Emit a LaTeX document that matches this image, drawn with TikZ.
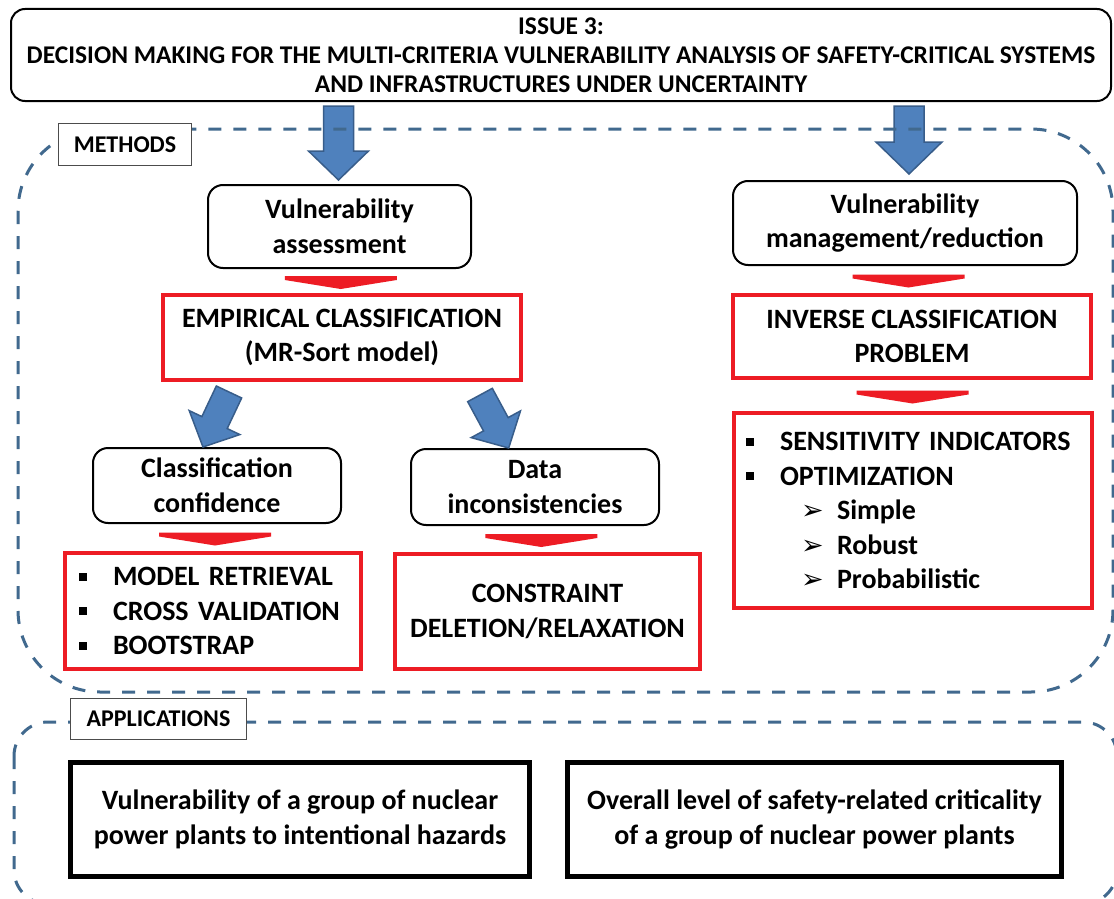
\documentclass[tikz,border=0pt]{standalone}
\usepackage{fontspec}
\setmainfont{Carlito}
\newfontfamily\dingfont{DejaVu Sans}
\usetikzlibrary{calc}
\definecolor{arrowfill}{HTML}{4F81BD}
\definecolor{arrowline}{HTML}{385D8A}
\definecolor{boxred}{HTML}{ED1C24}
\definecolor{framecol}{HTML}{41698E}
\newcommand{\boxtext}{\fontsize{28}{34.5}\selectfont\bfseries}
\newcommand{\tagtext}{\fontsize{24}{29}\selectfont\bfseries}
\newcommand{\headtext}{\fontsize{25.5}{29}\selectfont\bfseries}
\newcommand{\sqitem}{\makebox[34pt][l]{\rule[5pt]{8pt}{8pt}}}
\newcommand{\arrowitem}{\hspace*{55pt}\makebox[36pt][l]{\dingfont\fontsize{27}{27}\selectfont ➢}}
\begin{document}
\begin{tikzpicture}[x=1pt, y=-1pt,
  roundbox/.style={draw=black, line width=2pt, rounded corners=15pt, fill=white, align=center, font=\boxtext, inner sep=0pt},
  redbox/.style={draw=boxred, line width=4pt, fill=white, font=\boxtext, inner sep=0pt},
  appbox/.style={draw=black, line width=5pt, fill=white, align=center, font=\boxtext, inner sep=0pt},
  tagbox/.style={draw=black!70, line width=1.2pt, fill=white, font=\tagtext, inner sep=0pt},
  groupframe/.style={draw=framecol, line width=3pt, dash pattern=on 13pt off 12pt},
  bluearrow/.style n args={3}{fill=arrowfill, draw=arrowline, line width=1.5pt, to path={let \p1=(\tikztostart), \p2=(\tikztotarget), \p3=($(\p2)!#3!(\p1)$) in ($(\p1)!#1!90:(\p2)$) -- ($(\p3)!#1!90:(\p2)$) -- ($(\p3)!#2!90:(\p2)$) -- (\p2) -- ($(\p3)!#2!-90:(\p2)$) -- ($(\p3)!#1!-90:(\p2)$) -- ($(\p1)!#1!-90:(\p2)$) -- cycle}},
  redwedge/.style={fill=boxred, to path={let \p1=(\tikztostart.south), \p2=(\tikztotarget.north), \n1={(\x1+\x2)/2}, \n2={(\y1+\y2)/2} in (\n1-56pt,\n2+5pt) -- (\n1+56pt,\n2+5pt) -- (\n1+56pt,\n2+1pt) -- (\n1+0pt,\n2-8pt) -- (\n1-56pt,\n2+1pt) -- cycle}}]
\useasboundingbox (0,0) rectangle (1114,899);
\fill[white] (0,0) rectangle (1114,899);
\clip (0,0) rectangle (1114,899);
\node[roundbox, font=\headtext, rounded corners=14pt, minimum width=1100pt, minimum height=92pt] (title) at (561, 55) {ISSUE 3:\\DECISION MAKING FOR THE MULTI-CRITERIA VULNERABILITY ANALYSIS OF SAFETY-CRITICAL SYSTEMS\\AND INFRASTRUCTURES UNDER UNCERTAINTY};
\node[roundbox, minimum width=263pt, minimum height=83pt] (vass) at (339.5, 226.5) {Vulnerability\\assessment};
\node[roundbox, minimum width=344pt, minimum height=84pt] (vman) at (905, 223) {Vulnerability\\management/reduction};
\node[redbox, align=center, minimum width=358pt, minimum height=85pt] (emp) at (342, 337.5) {EMPIRICAL CLASSIFICATION\\(MR-Sort model)};
\node[redbox, align=center, minimum width=358pt, minimum height=83pt] (inv) at (912, 336.5) {INVERSE CLASSIFICATION\\PROBLEM};
\node[roundbox, minimum width=248pt, minimum height=75pt] (conf) at (217, 485.5) {Classification\\confidence};
\node[roundbox, minimum width=248pt, minimum height=76pt] (data) at (535, 487) {Data\\inconsistencies};
\node[redbox, align=left, text width=268pt, inner xsep=14pt, minimum height=116pt] (lbul) at (213, 611) {\sqitem MODEL RETRIEVAL\\\sqitem CROSS VALIDATION\\\sqitem BOOTSTRAP};
\node[redbox, align=center, minimum width=305pt, minimum height=115pt] (cons) at (547.5, 611.5) {CONSTRAINT\\DELETION/RELAXATION};
\node[redbox, align=left, text width=334pt, inner xsep=12pt, minimum height=195pt] (rbul) at (913, 510.5) {\sqitem SENSITIVITY INDICATORS\\\sqitem OPTIMIZATION\\\arrowitem Simple\\\arrowitem Robust\\\arrowitem Probabilistic};
\node[appbox, minimum width=459pt, minimum height=114pt] (app1) at (300, 819.5) {Vulnerability of a group of nuclear\\power plants to intentional hazards};
\node[appbox, minimum width=494pt, minimum height=114pt] (app2) at (814.5, 819.5) {Overall level of safety-related criticality\\of a group of nuclear power plants};
\coordinate (t1) at ($(title.south -| vass.north)+(-1,4)$);
\coordinate (t2) at ($(title.south -| vman.north)+(4,4)$);
\coordinate (d1) at (229, 392);
\coordinate (d2) at (480, 395);
\path [bluearrow={15pt}{30pt}{29pt}] (t1) to ([xshift=-1pt,yshift=4pt]vass.north);
\path [bluearrow={15pt}{33pt}{32pt}] (t2) to ([xshift=4pt,yshift=6pt]vman.north);
\path [bluearrow={14pt}{28pt}{27pt}] (d1) to (conf.110);
\path [bluearrow={14pt}{28pt}{27pt}] (d2) to (data.124);
\path [redwedge] (vass) to (emp);
\path [redwedge] (vman) to (inv);
\path [redwedge] (inv) to (rbul);
\path [redwedge] (conf) to (lbul);
\path [redwedge] (data) to (cons);
\draw [groupframe, rounded corners=82pt] (18, 129) rectangle (1113, 692);
\draw [groupframe, rounded corners=34pt] (14, 722) rectangle (1117, 904);
\node[tagbox, minimum width=133pt, minimum height=42pt] (methods) at (125, 144.5) {METHODS};
\node[tagbox, minimum width=176pt, minimum height=41pt] (apps) at (158.5, 719) {APPLICATIONS};
\end{tikzpicture}
\end{document}
